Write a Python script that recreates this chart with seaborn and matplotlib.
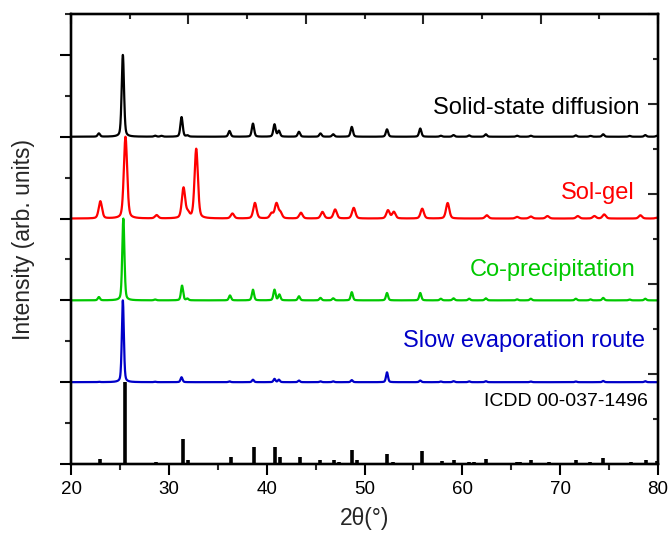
import numpy as np
import pandas as pd
import matplotlib
matplotlib.use("Agg")
import matplotlib.pyplot as plt
from matplotlib.ticker import MultipleLocator, FixedLocator
import seaborn as sns

# ---------------- data (peak lists) ----------------
# ICDD 00-037-1496 reference sticks: 2theta, relative intensity (%)
icdd_pos = [23.0, 25.5, 28.7, 31.4, 32.0, 36.4, 38.7, 40.9, 41.4, 43.4, 45.5, 46.9,
            47.4, 48.75, 49.2, 52.3, 52.9, 55.9, 57.9, 59.1, 60.7, 61.2, 62.4, 65.6,
            65.9, 67.0, 68.9, 71.6, 73.1, 74.4, 77.2, 78.8, 79.9]
icdd_int = [6, 100, 3, 31, 5, 8, 21, 21, 9, 9, 5, 5,
            3, 17, 5, 12, 2, 16, 4, 5, 3, 2, 6, 2,
            2, 5, 2, 5, 2, 7, 2, 5, 4]

# Solid-state diffusion
ssd_pos = [22.85, 25.3, 28.6, 29.25, 31.3, 31.9, 36.2, 38.6, 40.8, 41.25, 43.3, 45.5,
           46.8, 48.7, 52.3, 55.7, 57.8, 59.1, 60.7, 62.4, 65.6, 67.0, 71.6, 73.1,
           74.4, 77.1, 78.7, 79.9]
ssd_int = [4, 100, 1.2, 1, 24, 1.5, 7, 16, 15, 7, 6, 4,
           3, 12, 9, 10, 1.2, 2, 1.6, 3, 1.2, 1.2, 1.6, 1,
           3, 1, 2, 1.2]

# Sol-gel
sg_pos = [23.0, 25.57, 28.75, 31.5, 31.95, 32.8, 36.5, 38.8, 40.5, 41.0, 41.4, 43.5,
          45.7, 47.0, 48.9, 52.4, 53.0, 55.9, 58.5, 62.5, 65.6, 67.0, 68.7, 71.8,
          73.5, 74.5, 78.2, 79.9]
sg_int = [21, 100, 4, 37, 6, 85, 6, 19, 6, 18, 7, 7,
          8, 11, 13, 10, 8, 12, 19, 4, 2, 2.5, 3, 3,
          3, 5, 4, 1]

# Co-precipitation
cp_pos = [22.85, 25.35, 28.6, 31.35, 31.9, 36.25, 38.6, 40.8, 41.3, 43.3, 45.5, 46.8,
          48.7, 52.3, 55.7, 57.8, 59.1, 60.7, 62.4, 65.6, 67.0, 71.6, 73.1, 74.4,
          77.1, 78.7]
cp_int = [4, 100, 1, 18, 2, 6, 13, 13, 7, 5, 3, 2.5,
          10, 9, 9, 2, 2.5, 2, 2.5, 1.2, 2, 2, 1.2, 3,
          1, 2]

# Slow evaporation route
se_pos = [22.85, 25.3, 28.6, 31.3, 36.2, 38.6, 40.8, 41.25, 43.3, 45.5, 46.8, 48.7,
          52.3, 55.7, 57.8, 59.1, 60.7, 62.4, 67.0, 71.6, 74.4, 78.7]
se_int = [0.5, 100, 0.5, 6, 1, 3, 4, 3, 2, 1, 1, 2.5,
          12, 2, 0.8, 1.2, 1, 1.2, 0.8, 0.8, 1.5, 1.2]

labels = ["Solid-state diffusion", "Sol-gel", "Co-precipitation", "Slow evaporation route"]
colors = ["#000000", "#ff0000", "#00c800", "#0000c8"]
offsets = [8, 6, 4, 2]
widths = [0.28, 0.4, 0.26, 0.24]
ref_label = "ICDD 00-037-1496"

# ---------------- build profiles from the peak lists ----------------
x = np.linspace(20, 80, 4001)


def profile(pos, inten, fwhm):
    y = np.zeros_like(x)
    g = fwhm / (2 * np.sqrt(2 * np.log(2)))
    for p, h in zip(pos, inten):
        lor = 1.0 / (1.0 + ((x - p) / (fwhm / 2)) ** 2)
        gau = np.exp(-0.5 * ((x - p) / g) ** 2)
        y += h * (0.35 * lor + 0.65 * gau)
    return y / y.max() * 2.0


series = [(ssd_pos, ssd_int), (sg_pos, sg_int), (cp_pos, cp_int), (se_pos, se_int)]
frames = []
for (pos, inten), lab, off, w in zip(series, labels, offsets, widths):
    frames.append(pd.DataFrame({"two_theta": x, "intensity": profile(pos, inten, w) + off,
                                "sample": lab}))
df = pd.concat(frames, ignore_index=True)

# ---------------- plot ----------------
sns.set_theme(style="ticks")
plt.rcParams["font.family"] = ["Liberation Sans", "DejaVu Sans"]

fig = plt.figure(figsize=(6.71, 5.34), dpi=100)
ax = fig.add_axes([71 / 671, 1 - 464 / 534, (658 - 71) / 671, (464 - 14) / 534])

sns.lineplot(data=df, x="two_theta", y="intensity", hue="sample", hue_order=labels,
             palette=colors, linewidth=1.6, legend=False, ax=ax, estimator=None,
             sort=False)

ref = pd.DataFrame({"two_theta": icdd_pos, "intensity": np.array(icdd_int) / 100 * 2})
ax.vlines(ref["two_theta"], 0, ref["intensity"], colors="black", linewidth=2.6)

ax.set_xlim(20, 80)
ax.set_ylim(0, 11)

text_pos = [(78.16, 8.70), (77.65, 6.63), (77.65, 4.74), (78.67, 3.0)]
for (tx, ty), lab, c in zip(text_pos, labels, colors):
    ax.text(tx, ty, lab, color=c, fontsize=17, ha="right", va="center")
ax.text(78.98, 1.52, ref_label, color="black", fontsize=14, ha="right", va="center")

# ticks
ax.xaxis.set_major_locator(MultipleLocator(10))
ax.xaxis.set_minor_locator(MultipleLocator(5))
ax.yaxis.set_major_locator(MultipleLocator(2))
ax.yaxis.set_minor_locator(MultipleLocator(1))
ax.set_yticklabels([])
ax.tick_params(axis="both", which="major", direction="out", length=8, width=1.5,
               labelsize=13.5, pad=4, colors="black")
ax.tick_params(axis="both", which="minor", direction="out", length=4, width=1.5)
for s in ax.spines.values():
    s.set_linewidth(1.6)
    s.set_color("black")

axt = ax.twiny()
axt.set_xlim(20, 80)
axt.xaxis.set_major_locator(FixedLocator([20, 32, 44, 56, 68, 80]))
axt.xaxis.set_minor_locator(FixedLocator([26, 38, 50, 62, 74]))
axt.tick_params(axis="x", which="major", direction="in", length=7, width=1.5, labeltop=False)
axt.tick_params(axis="x", which="minor", direction="in", length=3.5, width=1.5)

axr = ax.twinx()
axr.set_ylim(0, 10)
axr.yaxis.set_major_locator(MultipleLocator(2))
axr.yaxis.set_minor_locator(MultipleLocator(1))
axr.tick_params(axis="y", which="major", direction="in", length=7, width=1.5, labelright=False)
axr.tick_params(axis="y", which="minor", direction="in", length=3.5, width=1.5)
for a in (axt, axr):
    for s in a.spines.values():
        s.set_linewidth(1.6)
        s.set_color("black")

ax.set_xlabel("2θ(°)", fontsize=16.5, labelpad=7)
ax.set_ylabel("Intensity (arb. units)", fontsize=16.5, labelpad=14)

fig.savefig("out.png", dpi=100)
